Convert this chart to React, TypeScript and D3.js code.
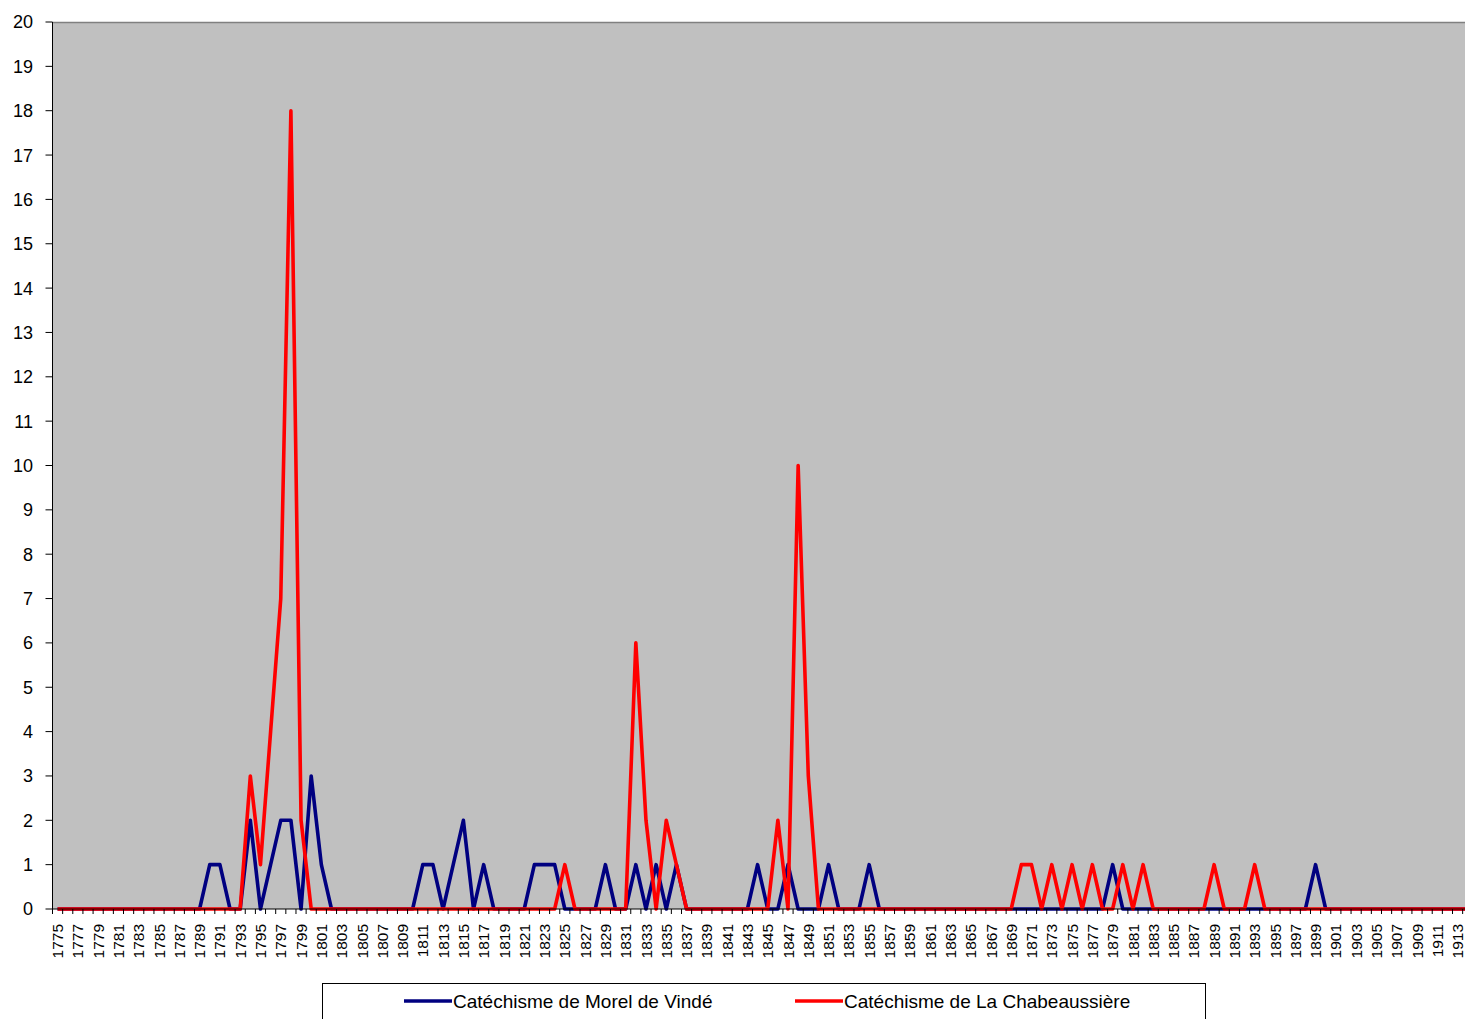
import React, { useEffect, useRef } from 'react';
import * as d3 from 'd3';

// Years shown on the category axis (1914 is cut off at the right edge)
const years: number[] = d3.range(1775, 1915);

// Catéchisme de Morel de Vindé, one value per year, grouped by decade
const morelValues: number[] = [
  0, 0, 0, 0, 0, // 1775-1779
  0, 0, 0, 0, 0, 0, 0, 0, 0, 0, // 1780s
  1, 1, 0, 0, 2, 0, 1, 2, 2, 0, // 1790s
  3, 1, 0, 0, 0, 0, 0, 0, 0, 0, // 1800s
  0, 1, 1, 0, 1, 2, 0, 1, 0, 0, // 1810s
  0, 0, 1, 1, 1, 0, 0, 0, 0, 1, // 1820s
  0, 0, 1, 0, 1, 0, 1, 0, 0, 0, // 1830s
  0, 0, 0, 0, 1, 0, 0, 1, 0, 0, // 1840s
  0, 1, 0, 0, 0, 1, 0, 0, 0, 0, // 1850s
  0, 0, 0, 0, 0, 0, 0, 0, 0, 0, // 1860s
  0, 0, 0, 0, 0, 0, 0, 0, 0, 1, // 1870s
  0, 0, 0, 0, 0, 0, 0, 0, 0, 0, // 1880s
  0, 0, 0, 0, 0, 0, 0, 0, 0, 1, // 1890s
  0, 0, 0, 0, 0, 0, 0, 0, 0, 0, // 1900s
  0, 0, 0, 0, 0, // 1910-1914
];

// Catéchisme de La Chabeaussière
const chabValues: number[] = [
  0, 0, 0, 0, 0, // 1775-1779
  0, 0, 0, 0, 0, 0, 0, 0, 0, 0, // 1780s
  0, 0, 0, 0, 3, 1, 4, 7, 18, 2, // 1790s
  0, 0, 0, 0, 0, 0, 0, 0, 0, 0, // 1800s
  0, 0, 0, 0, 0, 0, 0, 0, 0, 0, // 1810s
  0, 0, 0, 0, 0, 1, 0, 0, 0, 0, // 1820s
  0, 0, 6, 2, 0, 2, 1, 0, 0, 0, // 1830s
  0, 0, 0, 0, 0, 0, 2, 0, 10, 3, // 1840s
  0, 0, 0, 0, 0, 0, 0, 0, 0, 0, // 1850s
  0, 0, 0, 0, 0, 0, 0, 0, 0, 0, // 1860s
  1, 1, 0, 1, 0, 1, 0, 1, 0, 0, // 1870s
  1, 0, 1, 0, 0, 0, 0, 0, 0, 1, // 1880s
  0, 0, 0, 1, 0, 0, 0, 0, 0, 0, // 1890s
  0, 0, 0, 0, 0, 0, 0, 0, 0, 0, // 1900s
  0, 0, 0, 0, 0, // 1910-1914
];

const seriesNames = ['Catéchisme de Morel de Vindé', 'Catéchisme de La Chabeaussière'];
const seriesColors = ['#000080', '#ff0000'];
const yTicks: number[] = d3.range(0, 21);

const WIDTH = 1465;
const HEIGHT = 1019;
const FONT = 'Arial, "Liberation Sans", sans-serif';

const App: React.FC = () => {
  const svgRef = useRef<SVGSVGElement>(null);

  useEffect(() => {
    if (!svgRef.current) return;
    const svg = d3.select(svgRef.current);
    svg.selectAll('*').remove();

    const plot = { left: 52.5, top: 22, bottom: 909 };
    const band = 10.145;

    const xScale = d3
      .scaleBand<number>()
      .domain(years)
      .range([plot.left, plot.left + band * years.length])
      .padding(0);

    const yScale = d3.scaleLinear().domain([0, 20]).range([plot.bottom, plot.top]);

    const cx = (yr: number) => (xScale(yr) as number) + xScale.bandwidth() / 2;

    // Plot area background
    svg.append('rect')
      .attr('x', plot.left)
      .attr('y', plot.top)
      .attr('width', WIDTH - plot.left + 20)
      .attr('height', plot.bottom - plot.top)
      .attr('fill', '#c0c0c0');

    svg.append('line')
      .attr('x1', plot.left)
      .attr('x2', WIDTH)
      .attr('y1', plot.top + 0.5)
      .attr('y2', plot.top + 0.5)
      .attr('stroke', '#808080')
      .attr('stroke-width', 1.5);

    // Y axis
    const yAxis = svg.append('g');
    yAxis.append('line')
      .attr('x1', plot.left)
      .attr('x2', plot.left)
      .attr('y1', plot.top)
      .attr('y2', plot.bottom)
      .attr('stroke', '#000')
      .attr('stroke-width', 1);
    yAxis.selectAll('.ytick')
      .data(yTicks)
      .enter()
      .append('line')
      .attr('x1', plot.left - 7)
      .attr('x2', plot.left)
      .attr('y1', (d) => yScale(d))
      .attr('y2', (d) => yScale(d))
      .attr('stroke', '#000');
    yAxis.selectAll('.ylabel')
      .data(yTicks)
      .enter()
      .append('text')
      .attr('x', 33)
      .attr('y', (d) => yScale(d))
      .attr('dy', '0.36em')
      .attr('text-anchor', 'end')
      .style('font-family', FONT)
      .style('font-size', '18px')
      .text((d) => String(d));

    // Series lines, Morel first so that La Chabeaussière is drawn on top
    const series = [morelValues, chabValues];
    series.forEach((vals, i) => {
      const line = d3
        .line<number>()
        .x((_, j) => cx(years[j]))
        .y((d) => yScale(d));
      svg.append('path')
        .datum(vals)
        .attr('fill', 'none')
        .attr('stroke', seriesColors[i])
        .attr('stroke-width', 3.6)
        .attr('stroke-linejoin', 'round')
        .attr('d', line);
    });

    // X axis
    const xAxis = svg.append('g');
    xAxis.append('line')
      .attr('x1', plot.left)
      .attr('x2', WIDTH)
      .attr('y1', plot.bottom)
      .attr('y2', plot.bottom)
      .attr('stroke', '#000');
    xAxis.selectAll('.xtick')
      .data(years)
      .enter()
      .append('line')
      .attr('x1', (d) => xScale(d) as number)
      .attr('x2', (d) => xScale(d) as number)
      .attr('y1', plot.bottom)
      .attr('y2', plot.bottom + 5)
      .attr('stroke', '#000');
    xAxis.selectAll('.xlabel')
      .data(years.filter((d) => (d - 1775) % 2 === 0))
      .enter()
      .append('text')
      .attr('transform', (d) => `translate(${cx(d)},${plot.bottom + 15}) rotate(-90)`)
      .attr('text-anchor', 'end')
      .attr('dy', '0.36em')
      .style('font-family', FONT)
      .style('font-size', '15.5px')
      .text((d) => String(d));

    // Legend
    const legend = svg.append('g');
    legend.append('rect')
      .attr('x', 322.5)
      .attr('y', 983.5)
      .attr('width', 883)
      .attr('height', 50)
      .attr('fill', '#fff')
      .attr('stroke', '#000');
    const legendX = [404, 795];
    seriesNames.forEach((name, i) => {
      legend.append('line')
        .attr('x1', legendX[i])
        .attr('x2', legendX[i] + 48)
        .attr('y1', 1001)
        .attr('y2', 1001)
        .attr('stroke', seriesColors[i])
        .attr('stroke-width', 3.5);
      legend.append('text')
        .attr('x', legendX[i] + 49)
        .attr('y', 1008)
        .style('font-family', FONT)
        .style('font-size', '19px')
        .text(name);
    });
  }, []);

  return (
    <svg
      ref={svgRef}
      width={WIDTH}
      height={HEIGHT}
      style={{ position: 'absolute', left: 0, top: 0, background: '#fff' }}
    />
  );
};

export default App;
